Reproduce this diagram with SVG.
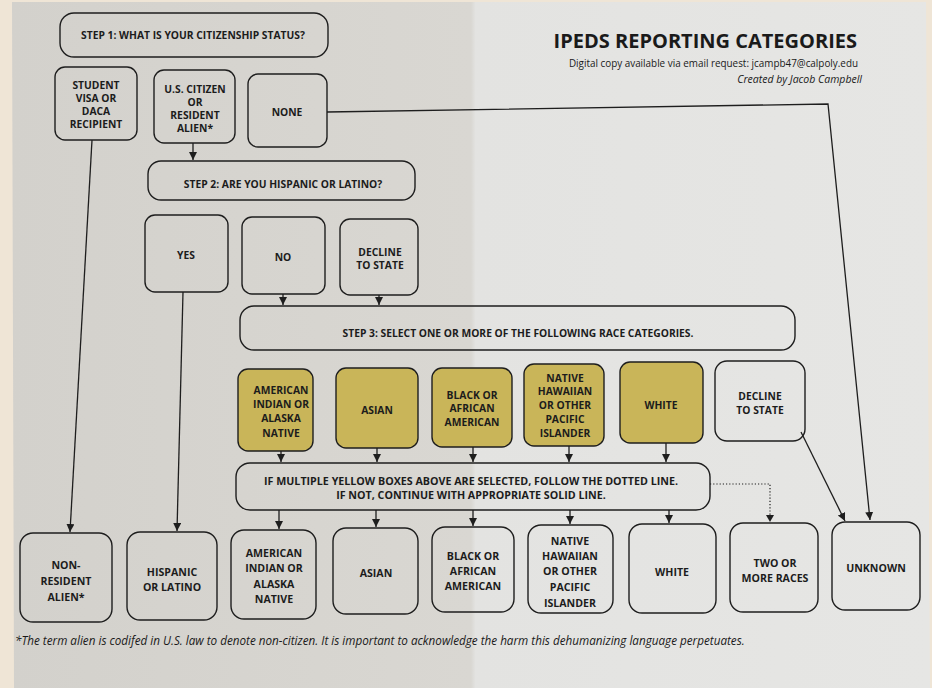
<svg xmlns="http://www.w3.org/2000/svg" width="932" height="688" viewBox="0 0 932 688">
<defs>
<marker id="ah" markerUnits="userSpaceOnUse" markerWidth="10" markerHeight="10" refX="8" refY="4" orient="auto">
<path d="M0,0 L8,4 L0,8 Z" fill="#1e1e1e"/>
</marker>
<linearGradient id="paper" x1="0" y1="0" x2="1" y2="0">
<stop offset="0" stop-color="#d3d1cc"/>
<stop offset="0.5" stop-color="#d9d7d2"/>
<stop offset="0.505" stop-color="#e3e3e1"/>
<stop offset="1" stop-color="#e6e6e4"/>
</linearGradient>
<style>
.box{fill:none;stroke:#1e1e1e;stroke-width:1.4}
.wb{fill:none;stroke:#1e1e1e;stroke-width:1.4}
.yb{fill:#c9b559;stroke:#1e1e1e;stroke-width:1.4}
.t{font-family:"Open Sans","Liberation Sans",sans-serif;font-weight:700;font-size:10.3px;fill:#1c1c1c;text-anchor:middle}
.tl{font-size:10.6px}
.tm{font-size:10.7px}
.c{fill:none;stroke:#1e1e1e;stroke-width:1.3}
.dot{fill:none;stroke:#1e1e1e;stroke-width:1.2;stroke-dasharray:1.2 2}
</style>
</defs>
<rect x="0" y="0" width="932" height="688" fill="#efe5d6"/>
<polygon points="12,2 926,2 930,688 14,688" fill="url(#paper)"/>

<g id="title">
<text x="857" y="48" style="font-family:'Open Sans','Liberation Sans',sans-serif;font-weight:700;font-size:20px;fill:#1a1a1a;text-anchor:end">IPEDS REPORTING CATEGORIES</text>
<text x="858" y="67" style="font-family:'Open Sans','Liberation Sans',sans-serif;font-size:9.9px;fill:#1a1a1a;text-anchor:end">Digital copy available via email request: jcampb47@calpoly.edu</text>
<text x="862" y="83" style="font-family:'Open Sans','Liberation Sans',sans-serif;font-style:italic;font-size:10.5px;fill:#1a1a1a;text-anchor:end">Created by Jacob Campbell</text>
</g>

<g id="connectors">
<line class="c" x1="193" y1="143" x2="193" y2="160" marker-end="url(#ah)"/>
<line class="c" x1="92" y1="140" x2="70" y2="532" marker-end="url(#ah)"/>
<line class="c" x1="183" y1="292" x2="177" y2="531" marker-end="url(#ah)"/>
<polyline class="c" points="327,112 828,104 870,520" marker-end="url(#ah)"/>
<line class="c" x1="283" y1="294" x2="283" y2="305" marker-end="url(#ah)"/>
<line class="c" x1="379" y1="295" x2="379" y2="305" marker-end="url(#ah)"/>
<line class="c" x1="281" y1="451" x2="281" y2="462" marker-end="url(#ah)"/>
<line class="c" x1="377" y1="448" x2="377" y2="462" marker-end="url(#ah)"/>
<line class="c" x1="473" y1="447" x2="473" y2="462" marker-end="url(#ah)"/>
<line class="c" x1="569" y1="446" x2="569" y2="462" marker-end="url(#ah)"/>
<line class="c" x1="666" y1="443" x2="666" y2="462" marker-end="url(#ah)"/>
<line class="c" x1="279" y1="510" x2="279" y2="529" marker-end="url(#ah)"/>
<line class="c" x1="376" y1="510" x2="376" y2="527" marker-end="url(#ah)"/>
<line class="c" x1="473" y1="510" x2="473" y2="526" marker-end="url(#ah)"/>
<line class="c" x1="570" y1="510" x2="570" y2="524" marker-end="url(#ah)"/>
<line class="c" x1="669" y1="510" x2="669" y2="523" marker-end="url(#ah)"/>
<polyline class="dot" points="710,484 770,484 770,516"/>
<path d="M766,515 L774,515 L770,522 Z" fill="#1e1e1e"/>
<line class="c" x1="801" y1="432" x2="845" y2="521" marker-end="url(#ah)"/>
</g>

<g id="step1"><rect class="box" x="60" y="13" width="268" height="44" rx="14"/><text class="t" x="193" y="39">STEP 1: WHAT IS YOUR CITIZENSHIP STATUS?</text></g>
<g id="student"><rect class="box" x="55" y="67" width="82" height="73" rx="10"/><text class="t" x="96" y="89">STUDENT</text><text class="t" x="96" y="102">VISA OR</text><text class="t" x="96" y="115">DACA</text><text class="t" x="96" y="128">RECIPIENT</text></g>
<g id="uscitizen"><rect class="box" x="154" y="70" width="81" height="73" rx="10"/><text class="t" x="195" y="93">U.S. CITIZEN</text><text class="t" x="195" y="106">OR</text><text class="t" x="195" y="119">RESIDENT</text><text class="t" x="195" y="132">ALIEN*</text></g>
<g id="none"><rect class="box" x="248" y="74" width="79" height="73" rx="10"/><text class="t" x="287" y="116">NONE</text></g>
<g id="step2"><rect class="box" x="148" y="161" width="267" height="39" rx="13"/><text class="t" x="283" y="188">STEP 2: ARE YOU HISPANIC OR LATINO?</text></g>
<g id="yes"><rect class="box" x="145" y="215" width="83" height="77" rx="10"/><text class="t" x="186" y="259">YES</text></g>
<g id="no"><rect class="box" x="242" y="217" width="83" height="77" rx="10"/><text class="t" x="283" y="261">NO</text></g>
<g id="decline1"><rect class="box" x="340" y="219" width="78" height="76" rx="10"/><text class="t" x="380" y="256">DECLINE</text><text class="t" x="380" y="269">TO STATE</text></g>
<g id="step3"><rect class="box" x="240" y="306" width="555" height="44" rx="14"/><text class="t" x="518" y="337">STEP 3: SELECT ONE OR MORE OF THE FOLLOWING RACE CATEGORIES.</text></g>

<g id="y-aian"><rect class="yb" x="238" y="369" width="75" height="82" rx="10"/><text class="t" x="281" y="394">AMERICAN</text><text class="t" x="281" y="408">INDIAN OR</text><text class="t" x="281" y="422">ALASKA</text><text class="t" x="281" y="437">NATIVE</text></g>
<g id="y-asian"><rect class="yb" x="336" y="368" width="82" height="80" rx="10"/><text class="t" x="377" y="414">ASIAN</text></g>
<g id="y-black"><rect class="yb" x="432" y="368" width="80" height="79" rx="10"/><text class="t" x="472" y="399">BLACK OR</text><text class="t" x="472" y="412">AFRICAN</text><text class="t" x="472" y="426">AMERICAN</text></g>
<g id="y-nhpi"><rect class="yb" x="524" y="364" width="80" height="82" rx="10"/><text class="t" x="565" y="382">NATIVE</text><text class="t" x="565" y="395">HAWAIIAN</text><text class="t" x="565" y="409">OR OTHER</text><text class="t" x="565" y="423">PACIFIC</text><text class="t" x="565" y="437">ISLANDER</text></g>
<g id="y-white"><rect class="yb" x="620" y="362" width="83" height="81" rx="10"/><text class="t" x="661" y="409">WHITE</text></g>
<g id="decline2"><rect class="wb" x="715" y="361" width="90" height="80" rx="12"/><text class="t" x="760" y="400">DECLINE</text><text class="t" x="760" y="414">TO STATE</text></g>

<g id="ifmultiple"><rect class="box" x="236" y="463" width="474" height="47" rx="14"/><text class="t tm" x="471" y="485">IF MULTIPLE YELLOW BOXES ABOVE ARE SELECTED, FOLLOW THE DOTTED LINE.</text><text class="t tm" x="471" y="499">IF NOT, CONTINUE WITH APPROPRIATE SOLID LINE.</text></g>

<g id="nonresident"><rect class="box" x="20" y="533" width="92" height="89" rx="13"/><text class="t tl" x="66" y="569">NON-</text><text class="t tl" x="66" y="585">RESIDENT</text><text class="t tl" x="66" y="601">ALIEN*</text></g>
<g id="hispanic"><rect class="box" x="127" y="532" width="90" height="88" rx="13"/><text class="t tl" x="172" y="576">HISPANIC</text><text class="t tl" x="172" y="591">OR LATINO</text></g>
<g id="aian"><rect class="box" x="231" y="530" width="85" height="89" rx="13"/><text class="t tl" x="274" y="557">AMERICAN</text><text class="t tl" x="274" y="572">INDIAN OR</text><text class="t tl" x="274" y="588">ALASKA</text><text class="t tl" x="274" y="603">NATIVE</text></g>
<g id="asian"><rect class="box" x="333" y="528" width="85" height="86" rx="13"/><text class="t tl" x="376" y="577">ASIAN</text></g>
<g id="black"><rect class="box" x="432" y="527" width="82" height="85" rx="13"/><text class="t tl" x="473" y="560">BLACK OR</text><text class="t tl" x="473" y="575">AFRICAN</text><text class="t tl" x="473" y="590">AMERICAN</text></g>
<g id="nhpi"><rect class="box" x="528" y="525" width="85" height="88" rx="13"/><text class="t tl" x="570" y="545">NATIVE</text><text class="t tl" x="570" y="560">HAWAIIAN</text><text class="t tl" x="570" y="575">OR OTHER</text><text class="t tl" x="570" y="591">PACIFIC</text><text class="t tl" x="570" y="607">ISLANDER</text></g>
<g id="white"><rect class="box" x="629" y="524" width="87" height="89" rx="13"/><text class="t tl" x="672" y="576">WHITE</text></g>
<g id="twoormore"><rect class="box" x="730" y="523" width="88" height="89" rx="13"/><text class="t tl" x="775" y="567">TWO OR</text><text class="t tl" x="775" y="582">MORE RACES</text></g>
<g id="unknown"><rect class="box" x="832" y="522" width="88" height="88" rx="13"/><text class="t tl" x="876" y="572">UNKNOWN</text></g>

<text x="15" y="645" style="font-family:'Open Sans','Liberation Sans',sans-serif;font-style:italic;font-size:11.7px;fill:#1a1a1a">*The term alien is codifed in U.S. law to denote non-citizen. It is important to acknowledge the harm this dehumanizing language perpetuates.</text>
</svg>
